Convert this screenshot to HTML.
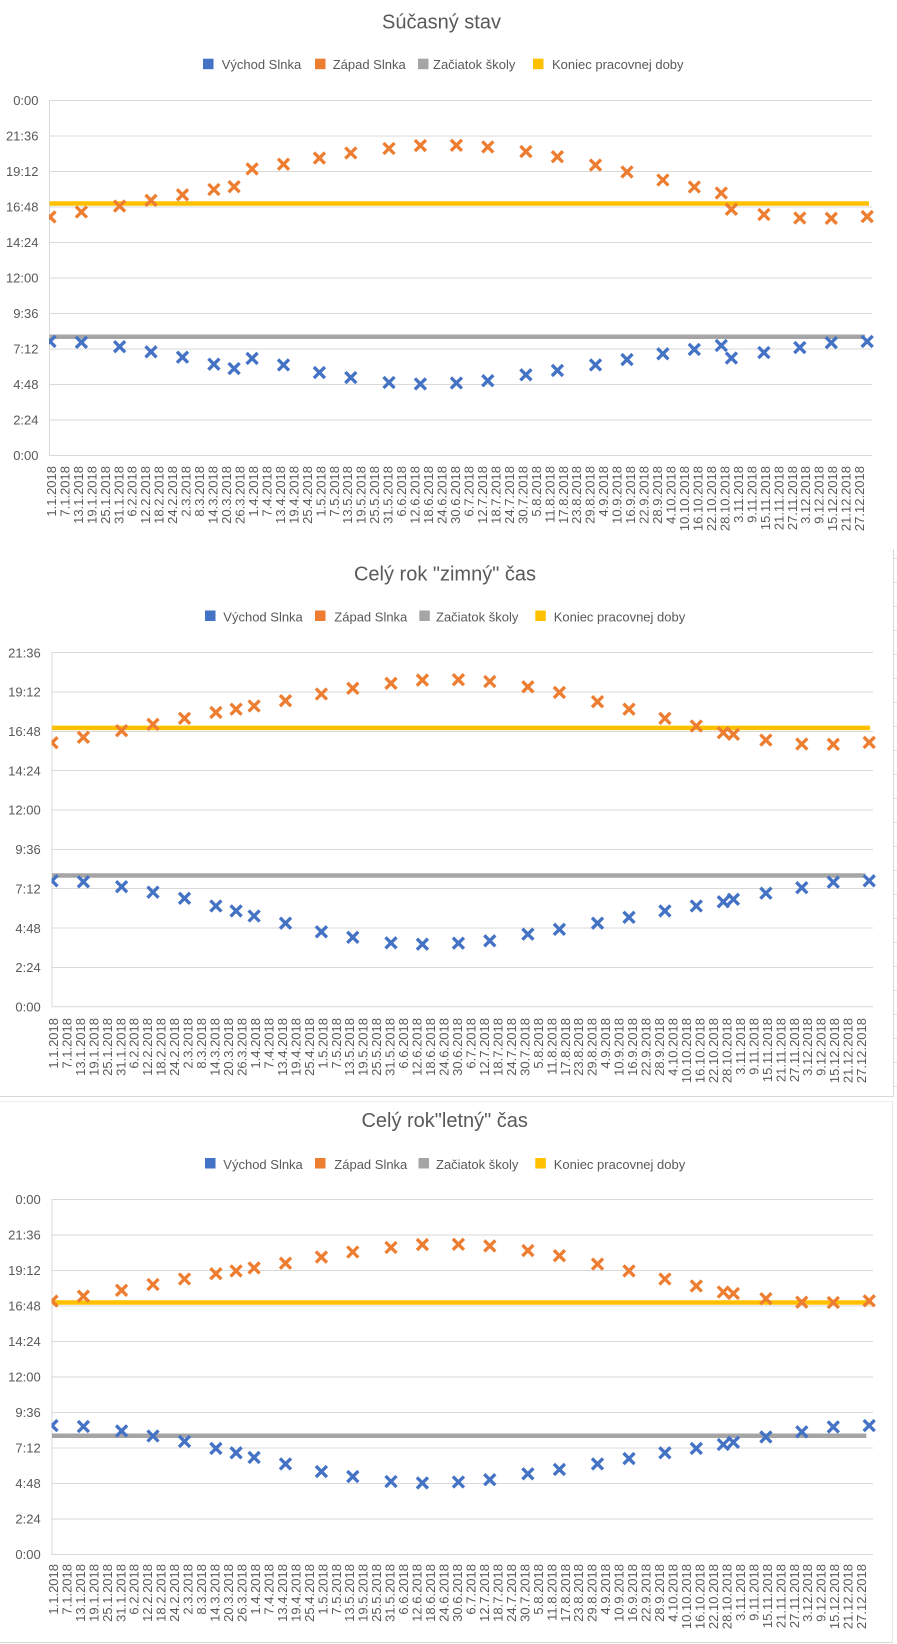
<!DOCTYPE html>
<html><head><meta charset="utf-8">
<style>
html,body{margin:0;padding:0;background:#fff;}
svg{display:block;}
text{font-family:"Liberation Sans",Arial,sans-serif;fill:#595959;}
.t{font-size:20px;}
.lg{font-size:13px;}
.ya{font-size:13px;text-anchor:end;}
.xl text{font-size:13px;text-anchor:end;}
</style></head>
<body>
<svg width="897" height="1644" viewBox="0 0 897 1644" xmlns="http://www.w3.org/2000/svg">
<defs>
<path id="m" d="M-5.5-5.5L5.5 5.5M-5.5 5.5L5.5-5.5"/>
<clipPath id="c1"><rect x="49" y="0" width="848" height="520"/></clipPath>
<clipPath id="c2"><rect x="51.5" y="540" width="846" height="520"/></clipPath>
<clipPath id="c3"><rect x="51.5" y="1100" width="846" height="520"/></clipPath>
</defs>
<rect width="897" height="1644" fill="#fff"/>

<!-- frames / sheet remnants -->
<g stroke="#d9d9d9" stroke-width="1">
<line x1="893.5" y1="549" x2="893.5" y2="1096.5"/>
<line x1="0" y1="1096.5" x2="893.5" y2="1096.5"/>
<line x1="0" y1="1642.5" x2="892" y2="1642.5"/>
</g>
<line x1="0" y1="1101.5" x2="892" y2="1101.5" stroke="#f0f0f0"/>
<line x1="892.5" y1="1101" x2="892.5" y2="1643" stroke="#e8e8e8"/>
<g stroke="#e3e3e3">
<line x1="894" y1="558.5" x2="897" y2="558.5"/><line x1="894" y1="582.5" x2="897" y2="582.5"/><line x1="894" y1="606.5" x2="897" y2="606.5"/><line x1="894" y1="630.5" x2="897" y2="630.5"/><line x1="894" y1="654.5" x2="897" y2="654.5"/><line x1="894" y1="678.5" x2="897" y2="678.5"/><line x1="894" y1="702.5" x2="897" y2="702.5"/><line x1="894" y1="726.5" x2="897" y2="726.5"/><line x1="894" y1="750.5" x2="897" y2="750.5"/><line x1="894" y1="774.5" x2="897" y2="774.5"/><line x1="894" y1="798.5" x2="897" y2="798.5"/><line x1="894" y1="822.5" x2="897" y2="822.5"/><line x1="894" y1="846.5" x2="897" y2="846.5"/><line x1="894" y1="870.5" x2="897" y2="870.5"/><line x1="894" y1="894.5" x2="897" y2="894.5"/><line x1="894" y1="918.5" x2="897" y2="918.5"/><line x1="894" y1="942.5" x2="897" y2="942.5"/><line x1="894" y1="966.5" x2="897" y2="966.5"/><line x1="894" y1="990.5" x2="897" y2="990.5"/><line x1="894" y1="1014.5" x2="897" y2="1014.5"/><line x1="894" y1="1038.5" x2="897" y2="1038.5"/><line x1="894" y1="1062.5" x2="897" y2="1062.5"/><line x1="894" y1="1086.5" x2="897" y2="1086.5"/>
</g>

<!-- ================= CHART 1 ================= -->
<text class="t" x="441.5" y="28.3" text-anchor="middle">Súčasný stav</text>
<rect x="203" y="58.7" width="10.5" height="10.5" fill="#4472C4"/><text class="lg" x="221.7" y="69">Východ Slnka</text>
<rect x="315" y="58.7" width="10.5" height="10.5" fill="#ED7D31"/><text class="lg" x="332.7" y="69">Západ Slnka</text>
<rect x="418" y="58.7" width="10.5" height="10.5" fill="#A5A5A5"/><text class="lg" x="433" y="69">Začiatok školy</text>
<rect x="533" y="58.7" width="10.5" height="10.5" fill="#FFC000"/><text class="lg" x="552" y="69">Koniec pracovnej doby</text>

<g stroke="#d9d9d9" stroke-width="1">
<line x1="49" y1="100.5" x2="872" y2="100.5"/><line x1="49" y1="136" x2="872" y2="136"/><line x1="49" y1="171.5" x2="872" y2="171.5"/><line x1="49" y1="207" x2="872" y2="207"/><line x1="49" y1="242.5" x2="872" y2="242.5"/><line x1="49" y1="278" x2="872" y2="278"/><line x1="49" y1="313.5" x2="872" y2="313.5"/><line x1="49" y1="349" x2="872" y2="349"/><line x1="49" y1="384.5" x2="872" y2="384.5"/><line x1="49" y1="420" x2="872" y2="420"/><line x1="49" y1="455.5" x2="872" y2="455.5"/>
<line x1="49.5" y1="100" x2="49.5" y2="456"/>
</g>
<g class="ya">
<text x="38.5" y="105">0:00</text><text x="38.5" y="140.5">21:36</text><text x="38.5" y="176">19:12</text><text x="38.5" y="211.5">16:48</text><text x="38.5" y="247">14:24</text><text x="38.5" y="282.5">12:00</text><text x="38.5" y="318">9:36</text><text x="38.5" y="353.5">7:12</text><text x="38.5" y="389">4:48</text><text x="38.5" y="424.5">2:24</text><text x="38.5" y="460">0:00</text>
</g>
<g class="xl" transform="translate(55.9,466)">
<text transform="translate(0,0) rotate(-90)">1.1.2018</text><text transform="translate(13.47,0) rotate(-90)">7.1.2018</text><text transform="translate(26.94,0) rotate(-90)">13.1.2018</text><text transform="translate(40.41,0) rotate(-90)">19.1.2018</text><text transform="translate(53.88,0) rotate(-90)">25.1.2018</text><text transform="translate(67.35,0) rotate(-90)">31.1.2018</text><text transform="translate(80.82,0) rotate(-90)">6.2.2018</text><text transform="translate(94.29,0) rotate(-90)">12.2.2018</text><text transform="translate(107.76,0) rotate(-90)">18.2.2018</text><text transform="translate(121.23,0) rotate(-90)">24.2.2018</text><text transform="translate(134.7,0) rotate(-90)">2.3.2018</text><text transform="translate(148.17,0) rotate(-90)">8.3.2018</text><text transform="translate(161.64,0) rotate(-90)">14.3.2018</text><text transform="translate(175.11,0) rotate(-90)">20.3.2018</text><text transform="translate(188.58,0) rotate(-90)">26.3.2018</text><text transform="translate(202.05,0) rotate(-90)">1.4.2018</text><text transform="translate(215.52,0) rotate(-90)">7.4.2018</text><text transform="translate(228.99,0) rotate(-90)">13.4.2018</text><text transform="translate(242.46,0) rotate(-90)">19.4.2018</text><text transform="translate(255.93,0) rotate(-90)">25.4.2018</text><text transform="translate(269.4,0) rotate(-90)">1.5.2018</text><text transform="translate(282.87,0) rotate(-90)">7.5.2018</text><text transform="translate(296.34,0) rotate(-90)">13.5.2018</text><text transform="translate(309.81,0) rotate(-90)">19.5.2018</text><text transform="translate(323.28,0) rotate(-90)">25.5.2018</text><text transform="translate(336.75,0) rotate(-90)">31.5.2018</text><text transform="translate(350.22,0) rotate(-90)">6.6.2018</text><text transform="translate(363.69,0) rotate(-90)">12.6.2018</text><text transform="translate(377.16,0) rotate(-90)">18.6.2018</text><text transform="translate(390.63,0) rotate(-90)">24.6.2018</text><text transform="translate(404.1,0) rotate(-90)">30.6.2018</text><text transform="translate(417.57,0) rotate(-90)">6.7.2018</text><text transform="translate(431.04,0) rotate(-90)">12.7.2018</text><text transform="translate(444.51,0) rotate(-90)">18.7.2018</text><text transform="translate(457.98,0) rotate(-90)">24.7.2018</text><text transform="translate(471.45,0) rotate(-90)">30.7.2018</text><text transform="translate(484.92,0) rotate(-90)">5.8.2018</text><text transform="translate(498.39,0) rotate(-90)">11.8.2018</text><text transform="translate(511.86,0) rotate(-90)">17.8.2018</text><text transform="translate(525.33,0) rotate(-90)">23.8.2018</text><text transform="translate(538.8,0) rotate(-90)">29.8.2018</text><text transform="translate(552.27,0) rotate(-90)">4.9.2018</text><text transform="translate(565.74,0) rotate(-90)">10.9.2018</text><text transform="translate(579.21,0) rotate(-90)">16.9.2018</text><text transform="translate(592.68,0) rotate(-90)">22.9.2018</text><text transform="translate(606.15,0) rotate(-90)">28.9.2018</text><text transform="translate(619.62,0) rotate(-90)">4.10.2018</text><text transform="translate(633.09,0) rotate(-90)">10.10.2018</text><text transform="translate(646.56,0) rotate(-90)">16.10.2018</text><text transform="translate(660.03,0) rotate(-90)">22.10.2018</text><text transform="translate(673.5,0) rotate(-90)">28.10.2018</text><text transform="translate(686.97,0) rotate(-90)">3.11.2018</text><text transform="translate(700.44,0) rotate(-90)">9.11.2018</text><text transform="translate(713.91,0) rotate(-90)">15.11.2018</text><text transform="translate(727.38,0) rotate(-90)">21.11.2018</text><text transform="translate(740.85,0) rotate(-90)">27.11.2018</text><text transform="translate(754.32,0) rotate(-90)">3.12.2018</text><text transform="translate(767.79,0) rotate(-90)">9.12.2018</text><text transform="translate(781.26,0) rotate(-90)">15.12.2018</text><text transform="translate(794.73,0) rotate(-90)">21.12.2018</text><text transform="translate(808.2,0) rotate(-90)">27.12.2018</text>
</g>
<line x1="49.5" y1="336.7" x2="865" y2="336.7" stroke="#A5A5A5" stroke-width="4.5"/>
<line x1="49.5" y1="203.5" x2="869" y2="203.5" stroke="#FFC000" stroke-width="4.5"/>
<g clip-path="url(#c1)">
<g stroke="#ED7D31" stroke-width="3.3" fill="none">
<use href="#m" x="50" y="216.9"/><use href="#m" x="81.4" y="212"/><use href="#m" x="119.6" y="206.1"/><use href="#m" x="151" y="200.3"/><use href="#m" x="182.5" y="194.8"/><use href="#m" x="213.9" y="189.5"/><use href="#m" x="234.1" y="186.7"/><use href="#m" x="252.1" y="168.9"/><use href="#m" x="283.5" y="164.2"/><use href="#m" x="319.4" y="158.1"/><use href="#m" x="350.8" y="153"/><use href="#m" x="389" y="148.5"/><use href="#m" x="420.4" y="145.6"/><use href="#m" x="456.4" y="145.3"/><use href="#m" x="487.8" y="146.9"/><use href="#m" x="525.9" y="151.6"/><use href="#m" x="557.4" y="156.7"/><use href="#m" x="595.5" y="165.1"/><use href="#m" x="627" y="171.9"/><use href="#m" x="662.9" y="180"/><use href="#m" x="694.3" y="187"/><use href="#m" x="721.3" y="193"/><use href="#m" x="731.4" y="209.3"/><use href="#m" x="763.9" y="214.5"/><use href="#m" x="799.8" y="218"/><use href="#m" x="831.3" y="218.3"/><use href="#m" x="867.2" y="216.6"/>
</g>
<g stroke="#4472C4" stroke-width="3.3" fill="none">
<use href="#m" x="50" y="341.4"/><use href="#m" x="81.4" y="342.3"/><use href="#m" x="119.6" y="346.7"/><use href="#m" x="151" y="351.8"/><use href="#m" x="182.5" y="357.2"/><use href="#m" x="213.9" y="364.2"/><use href="#m" x="234.1" y="368.6"/><use href="#m" x="252.1" y="358.4"/><use href="#m" x="283.5" y="364.9"/><use href="#m" x="319.4" y="372.6"/><use href="#m" x="350.8" y="377.6"/><use href="#m" x="389" y="382.5"/><use href="#m" x="420.4" y="383.9"/><use href="#m" x="456.4" y="383"/><use href="#m" x="487.8" y="380.7"/><use href="#m" x="525.9" y="374.8"/><use href="#m" x="557.4" y="370.4"/><use href="#m" x="595.5" y="364.9"/><use href="#m" x="627" y="359.6"/><use href="#m" x="662.9" y="353.8"/><use href="#m" x="694.3" y="349.4"/><use href="#m" x="721.3" y="345.5"/><use href="#m" x="731.4" y="358.1"/><use href="#m" x="763.9" y="352.6"/><use href="#m" x="799.8" y="347.6"/><use href="#m" x="831.3" y="342.7"/><use href="#m" x="867.2" y="341.4"/>
</g>
</g>

<!-- ================= CHART 2 ================= -->
<text class="t" x="445" y="580.5" text-anchor="middle">Celý rok "zimný" čas</text>
<rect x="205" y="610.5" width="10.5" height="10.5" fill="#4472C4"/><text class="lg" x="223.3" y="621.5">Východ Slnka</text>
<rect x="315" y="610.5" width="10.5" height="10.5" fill="#ED7D31"/><text class="lg" x="334.3" y="621.5">Západ Slnka</text>
<rect x="419.3" y="610.5" width="10.5" height="10.5" fill="#A5A5A5"/><text class="lg" x="436" y="621.5">Začiatok školy</text>
<rect x="535.3" y="610.5" width="10.5" height="10.5" fill="#FFC000"/><text class="lg" x="553.7" y="621.5">Koniec pracovnej doby</text>

<g stroke="#d9d9d9" stroke-width="1">
<line x1="51.7" y1="652.5" x2="873" y2="652.5"/><line x1="51.7" y1="692" x2="873" y2="692"/><line x1="51.7" y1="731.5" x2="873" y2="731.5"/><line x1="51.7" y1="770.5" x2="873" y2="770.5"/><line x1="51.7" y1="810" x2="873" y2="810"/><line x1="51.7" y1="849.5" x2="873" y2="849.5"/><line x1="51.7" y1="888.5" x2="873" y2="888.5"/><line x1="51.7" y1="928" x2="873" y2="928"/><line x1="51.7" y1="967.5" x2="873" y2="967.5"/><line x1="51.7" y1="1006.7" x2="873" y2="1006.7"/>
<line x1="52" y1="652" x2="52" y2="1007"/>
</g>
<g class="ya">
<text x="40.7" y="657.3">21:36</text><text x="40.7" y="696.7">19:12</text><text x="40.7" y="736">16:48</text><text x="40.7" y="775.4">14:24</text><text x="40.7" y="814.7">12:00</text><text x="40.7" y="854.1">9:36</text><text x="40.7" y="893.4">7:12</text><text x="40.7" y="932.8">4:48</text><text x="40.7" y="972.2">2:24</text><text x="40.7" y="1011.5">0:00</text>
</g>
<g class="xl" transform="translate(57.9,1018)">
<text transform="translate(0,0) rotate(-90)">1.1.2018</text><text transform="translate(13.47,0) rotate(-90)">7.1.2018</text><text transform="translate(26.94,0) rotate(-90)">13.1.2018</text><text transform="translate(40.41,0) rotate(-90)">19.1.2018</text><text transform="translate(53.88,0) rotate(-90)">25.1.2018</text><text transform="translate(67.35,0) rotate(-90)">31.1.2018</text><text transform="translate(80.82,0) rotate(-90)">6.2.2018</text><text transform="translate(94.29,0) rotate(-90)">12.2.2018</text><text transform="translate(107.76,0) rotate(-90)">18.2.2018</text><text transform="translate(121.23,0) rotate(-90)">24.2.2018</text><text transform="translate(134.7,0) rotate(-90)">2.3.2018</text><text transform="translate(148.17,0) rotate(-90)">8.3.2018</text><text transform="translate(161.64,0) rotate(-90)">14.3.2018</text><text transform="translate(175.11,0) rotate(-90)">20.3.2018</text><text transform="translate(188.58,0) rotate(-90)">26.3.2018</text><text transform="translate(202.05,0) rotate(-90)">1.4.2018</text><text transform="translate(215.52,0) rotate(-90)">7.4.2018</text><text transform="translate(228.99,0) rotate(-90)">13.4.2018</text><text transform="translate(242.46,0) rotate(-90)">19.4.2018</text><text transform="translate(255.93,0) rotate(-90)">25.4.2018</text><text transform="translate(269.4,0) rotate(-90)">1.5.2018</text><text transform="translate(282.87,0) rotate(-90)">7.5.2018</text><text transform="translate(296.34,0) rotate(-90)">13.5.2018</text><text transform="translate(309.81,0) rotate(-90)">19.5.2018</text><text transform="translate(323.28,0) rotate(-90)">25.5.2018</text><text transform="translate(336.75,0) rotate(-90)">31.5.2018</text><text transform="translate(350.22,0) rotate(-90)">6.6.2018</text><text transform="translate(363.69,0) rotate(-90)">12.6.2018</text><text transform="translate(377.16,0) rotate(-90)">18.6.2018</text><text transform="translate(390.63,0) rotate(-90)">24.6.2018</text><text transform="translate(404.1,0) rotate(-90)">30.6.2018</text><text transform="translate(417.57,0) rotate(-90)">6.7.2018</text><text transform="translate(431.04,0) rotate(-90)">12.7.2018</text><text transform="translate(444.51,0) rotate(-90)">18.7.2018</text><text transform="translate(457.98,0) rotate(-90)">24.7.2018</text><text transform="translate(471.45,0) rotate(-90)">30.7.2018</text><text transform="translate(484.92,0) rotate(-90)">5.8.2018</text><text transform="translate(498.39,0) rotate(-90)">11.8.2018</text><text transform="translate(511.86,0) rotate(-90)">17.8.2018</text><text transform="translate(525.33,0) rotate(-90)">23.8.2018</text><text transform="translate(538.8,0) rotate(-90)">29.8.2018</text><text transform="translate(552.27,0) rotate(-90)">4.9.2018</text><text transform="translate(565.74,0) rotate(-90)">10.9.2018</text><text transform="translate(579.21,0) rotate(-90)">16.9.2018</text><text transform="translate(592.68,0) rotate(-90)">22.9.2018</text><text transform="translate(606.15,0) rotate(-90)">28.9.2018</text><text transform="translate(619.62,0) rotate(-90)">4.10.2018</text><text transform="translate(633.09,0) rotate(-90)">10.10.2018</text><text transform="translate(646.56,0) rotate(-90)">16.10.2018</text><text transform="translate(660.03,0) rotate(-90)">22.10.2018</text><text transform="translate(673.5,0) rotate(-90)">28.10.2018</text><text transform="translate(686.97,0) rotate(-90)">3.11.2018</text><text transform="translate(700.44,0) rotate(-90)">9.11.2018</text><text transform="translate(713.91,0) rotate(-90)">15.11.2018</text><text transform="translate(727.38,0) rotate(-90)">21.11.2018</text><text transform="translate(740.85,0) rotate(-90)">27.11.2018</text><text transform="translate(754.32,0) rotate(-90)">3.12.2018</text><text transform="translate(767.79,0) rotate(-90)">9.12.2018</text><text transform="translate(781.26,0) rotate(-90)">15.12.2018</text><text transform="translate(794.73,0) rotate(-90)">21.12.2018</text><text transform="translate(808.2,0) rotate(-90)">27.12.2018</text>
</g>
<line x1="52" y1="875.5" x2="865.5" y2="875.5" stroke="#A5A5A5" stroke-width="4.5"/>
<line x1="52" y1="727.9" x2="870" y2="727.9" stroke="#FFC000" stroke-width="4.5"/>
<g clip-path="url(#c2)">
<g stroke="#ED7D31" stroke-width="3.3" fill="none">
<use href="#m" x="52" y="742.7"/><use href="#m" x="83.4" y="737.3"/><use href="#m" x="121.6" y="730.7"/><use href="#m" x="153" y="724.3"/><use href="#m" x="184.5" y="718.3"/><use href="#m" x="215.9" y="712.4"/><use href="#m" x="236.1" y="709.2"/><use href="#m" x="254.1" y="706"/><use href="#m" x="285.5" y="700.7"/><use href="#m" x="321.4" y="694"/><use href="#m" x="352.8" y="688.3"/><use href="#m" x="391" y="683.3"/><use href="#m" x="422.4" y="680.1"/><use href="#m" x="458.4" y="679.7"/><use href="#m" x="489.8" y="681.5"/><use href="#m" x="527.9" y="686.8"/><use href="#m" x="559.4" y="692.4"/><use href="#m" x="597.5" y="701.7"/><use href="#m" x="629" y="709.2"/><use href="#m" x="664.9" y="718.3"/><use href="#m" x="696.3" y="726"/><use href="#m" x="723.3" y="732.7"/><use href="#m" x="733.4" y="734.3"/><use href="#m" x="765.9" y="740.1"/><use href="#m" x="801.8" y="744"/><use href="#m" x="833.3" y="744.3"/><use href="#m" x="869.2" y="742.4"/>
</g>
<g stroke="#4472C4" stroke-width="3.3" fill="none">
<use href="#m" x="52" y="880.8"/><use href="#m" x="83.4" y="881.8"/><use href="#m" x="121.6" y="886.7"/><use href="#m" x="153" y="892.2"/><use href="#m" x="184.5" y="898.3"/><use href="#m" x="215.9" y="906"/><use href="#m" x="236.1" y="910.9"/><use href="#m" x="254.1" y="916"/><use href="#m" x="285.5" y="923.2"/><use href="#m" x="321.4" y="931.8"/><use href="#m" x="352.8" y="937.3"/><use href="#m" x="391" y="942.8"/><use href="#m" x="422.4" y="944.2"/><use href="#m" x="458.4" y="943.2"/><use href="#m" x="489.8" y="940.8"/><use href="#m" x="527.9" y="934.2"/><use href="#m" x="559.4" y="929.3"/><use href="#m" x="597.5" y="923.2"/><use href="#m" x="629" y="917.3"/><use href="#m" x="664.9" y="910.9"/><use href="#m" x="696.3" y="906"/><use href="#m" x="723.3" y="901.8"/><use href="#m" x="733.4" y="899.3"/><use href="#m" x="765.9" y="893.2"/><use href="#m" x="801.8" y="887.7"/><use href="#m" x="833.3" y="882.2"/><use href="#m" x="869.2" y="880.8"/>
</g>
</g>

<!-- ================= CHART 3 ================= -->
<text class="t" x="444.7" y="1127" text-anchor="middle">Celý rok"letný" čas</text>
<rect x="205" y="1158" width="10.5" height="10.5" fill="#4472C4"/><text class="lg" x="223.3" y="1169">Východ Slnka</text>
<rect x="315" y="1158" width="10.5" height="10.5" fill="#ED7D31"/><text class="lg" x="334.3" y="1169">Západ Slnka</text>
<rect x="418.5" y="1158" width="10.5" height="10.5" fill="#A5A5A5"/><text class="lg" x="436" y="1169">Začiatok školy</text>
<rect x="535.3" y="1158" width="10.5" height="10.5" fill="#FFC000"/><text class="lg" x="553.7" y="1169">Koniec pracovnej doby</text>

<g stroke="#d9d9d9" stroke-width="1">
<line x1="51.7" y1="1199.5" x2="873" y2="1199.5"/><line x1="51.7" y1="1235" x2="873" y2="1235"/><line x1="51.7" y1="1270.5" x2="873" y2="1270.5"/><line x1="51.7" y1="1306" x2="873" y2="1306"/><line x1="51.7" y1="1341.5" x2="873" y2="1341.5"/><line x1="51.7" y1="1377" x2="873" y2="1377"/><line x1="51.7" y1="1412.5" x2="873" y2="1412.5"/><line x1="51.7" y1="1448" x2="873" y2="1448"/><line x1="51.7" y1="1483.5" x2="873" y2="1483.5"/><line x1="51.7" y1="1519" x2="873" y2="1519"/><line x1="51.7" y1="1554.5" x2="873" y2="1554.5"/>
<line x1="52" y1="1199" x2="52" y2="1555"/>
</g>
<g class="ya">
<text x="40.7" y="1204">0:00</text><text x="40.7" y="1239.5">21:36</text><text x="40.7" y="1275">19:12</text><text x="40.7" y="1310.5">16:48</text><text x="40.7" y="1346">14:24</text><text x="40.7" y="1381.5">12:00</text><text x="40.7" y="1417">9:36</text><text x="40.7" y="1452.5">7:12</text><text x="40.7" y="1488">4:48</text><text x="40.7" y="1523.5">2:24</text><text x="40.7" y="1559">0:00</text>
</g>
<g class="xl" transform="translate(57.9,1564)">
<text transform="translate(0,0) rotate(-90)">1.1.2018</text><text transform="translate(13.47,0) rotate(-90)">7.1.2018</text><text transform="translate(26.94,0) rotate(-90)">13.1.2018</text><text transform="translate(40.41,0) rotate(-90)">19.1.2018</text><text transform="translate(53.88,0) rotate(-90)">25.1.2018</text><text transform="translate(67.35,0) rotate(-90)">31.1.2018</text><text transform="translate(80.82,0) rotate(-90)">6.2.2018</text><text transform="translate(94.29,0) rotate(-90)">12.2.2018</text><text transform="translate(107.76,0) rotate(-90)">18.2.2018</text><text transform="translate(121.23,0) rotate(-90)">24.2.2018</text><text transform="translate(134.7,0) rotate(-90)">2.3.2018</text><text transform="translate(148.17,0) rotate(-90)">8.3.2018</text><text transform="translate(161.64,0) rotate(-90)">14.3.2018</text><text transform="translate(175.11,0) rotate(-90)">20.3.2018</text><text transform="translate(188.58,0) rotate(-90)">26.3.2018</text><text transform="translate(202.05,0) rotate(-90)">1.4.2018</text><text transform="translate(215.52,0) rotate(-90)">7.4.2018</text><text transform="translate(228.99,0) rotate(-90)">13.4.2018</text><text transform="translate(242.46,0) rotate(-90)">19.4.2018</text><text transform="translate(255.93,0) rotate(-90)">25.4.2018</text><text transform="translate(269.4,0) rotate(-90)">1.5.2018</text><text transform="translate(282.87,0) rotate(-90)">7.5.2018</text><text transform="translate(296.34,0) rotate(-90)">13.5.2018</text><text transform="translate(309.81,0) rotate(-90)">19.5.2018</text><text transform="translate(323.28,0) rotate(-90)">25.5.2018</text><text transform="translate(336.75,0) rotate(-90)">31.5.2018</text><text transform="translate(350.22,0) rotate(-90)">6.6.2018</text><text transform="translate(363.69,0) rotate(-90)">12.6.2018</text><text transform="translate(377.16,0) rotate(-90)">18.6.2018</text><text transform="translate(390.63,0) rotate(-90)">24.6.2018</text><text transform="translate(404.1,0) rotate(-90)">30.6.2018</text><text transform="translate(417.57,0) rotate(-90)">6.7.2018</text><text transform="translate(431.04,0) rotate(-90)">12.7.2018</text><text transform="translate(444.51,0) rotate(-90)">18.7.2018</text><text transform="translate(457.98,0) rotate(-90)">24.7.2018</text><text transform="translate(471.45,0) rotate(-90)">30.7.2018</text><text transform="translate(484.92,0) rotate(-90)">5.8.2018</text><text transform="translate(498.39,0) rotate(-90)">11.8.2018</text><text transform="translate(511.86,0) rotate(-90)">17.8.2018</text><text transform="translate(525.33,0) rotate(-90)">23.8.2018</text><text transform="translate(538.8,0) rotate(-90)">29.8.2018</text><text transform="translate(552.27,0) rotate(-90)">4.9.2018</text><text transform="translate(565.74,0) rotate(-90)">10.9.2018</text><text transform="translate(579.21,0) rotate(-90)">16.9.2018</text><text transform="translate(592.68,0) rotate(-90)">22.9.2018</text><text transform="translate(606.15,0) rotate(-90)">28.9.2018</text><text transform="translate(619.62,0) rotate(-90)">4.10.2018</text><text transform="translate(633.09,0) rotate(-90)">10.10.2018</text><text transform="translate(646.56,0) rotate(-90)">16.10.2018</text><text transform="translate(660.03,0) rotate(-90)">22.10.2018</text><text transform="translate(673.5,0) rotate(-90)">28.10.2018</text><text transform="translate(686.97,0) rotate(-90)">3.11.2018</text><text transform="translate(700.44,0) rotate(-90)">9.11.2018</text><text transform="translate(713.91,0) rotate(-90)">15.11.2018</text><text transform="translate(727.38,0) rotate(-90)">21.11.2018</text><text transform="translate(740.85,0) rotate(-90)">27.11.2018</text><text transform="translate(754.32,0) rotate(-90)">3.12.2018</text><text transform="translate(767.79,0) rotate(-90)">9.12.2018</text><text transform="translate(781.26,0) rotate(-90)">15.12.2018</text><text transform="translate(794.73,0) rotate(-90)">21.12.2018</text><text transform="translate(808.2,0) rotate(-90)">27.12.2018</text>
</g>
<line x1="52" y1="1435.7" x2="866.3" y2="1435.7" stroke="#A5A5A5" stroke-width="4.5"/>
<line x1="52" y1="1302.5" x2="870" y2="1302.5" stroke="#FFC000" stroke-width="4.5"/>
<g clip-path="url(#c3)">
<g stroke="#ED7D31" stroke-width="3.3" fill="none">
<use href="#m" x="52" y="1301.1"/><use href="#m" x="83.4" y="1296.2"/><use href="#m" x="121.6" y="1290.3"/><use href="#m" x="153" y="1284.5"/><use href="#m" x="184.5" y="1279"/><use href="#m" x="215.9" y="1273.7"/><use href="#m" x="236.1" y="1270.9"/><use href="#m" x="254.1" y="1267.9"/><use href="#m" x="285.5" y="1263.2"/><use href="#m" x="321.4" y="1257.1"/><use href="#m" x="352.8" y="1252"/><use href="#m" x="391" y="1247.5"/><use href="#m" x="422.4" y="1244.6"/><use href="#m" x="458.4" y="1244.3"/><use href="#m" x="489.8" y="1245.9"/><use href="#m" x="527.9" y="1250.6"/><use href="#m" x="559.4" y="1255.7"/><use href="#m" x="597.5" y="1264.1"/><use href="#m" x="629" y="1270.9"/><use href="#m" x="664.9" y="1279"/><use href="#m" x="696.3" y="1286"/><use href="#m" x="723.3" y="1292"/><use href="#m" x="733.4" y="1293.5"/><use href="#m" x="765.9" y="1298.7"/><use href="#m" x="801.8" y="1302.2"/><use href="#m" x="833.3" y="1302.5"/><use href="#m" x="869.2" y="1300.8"/>
</g>
<g stroke="#4472C4" stroke-width="3.3" fill="none">
<use href="#m" x="52" y="1425.6"/><use href="#m" x="83.4" y="1426.5"/><use href="#m" x="121.6" y="1430.9"/><use href="#m" x="153" y="1436"/><use href="#m" x="184.5" y="1441.4"/><use href="#m" x="215.9" y="1448.4"/><use href="#m" x="236.1" y="1452.8"/><use href="#m" x="254.1" y="1457.4"/><use href="#m" x="285.5" y="1463.9"/><use href="#m" x="321.4" y="1471.6"/><use href="#m" x="352.8" y="1476.6"/><use href="#m" x="391" y="1481.5"/><use href="#m" x="422.4" y="1482.9"/><use href="#m" x="458.4" y="1482"/><use href="#m" x="489.8" y="1479.7"/><use href="#m" x="527.9" y="1473.8"/><use href="#m" x="559.4" y="1469.4"/><use href="#m" x="597.5" y="1463.9"/><use href="#m" x="629" y="1458.6"/><use href="#m" x="664.9" y="1452.8"/><use href="#m" x="696.3" y="1448.4"/><use href="#m" x="723.3" y="1444.5"/><use href="#m" x="733.4" y="1442.3"/><use href="#m" x="765.9" y="1436.9"/><use href="#m" x="801.8" y="1431.8"/><use href="#m" x="833.3" y="1426.9"/><use href="#m" x="869.2" y="1425.6"/>
</g>
</g>
</svg>
</body></html>
